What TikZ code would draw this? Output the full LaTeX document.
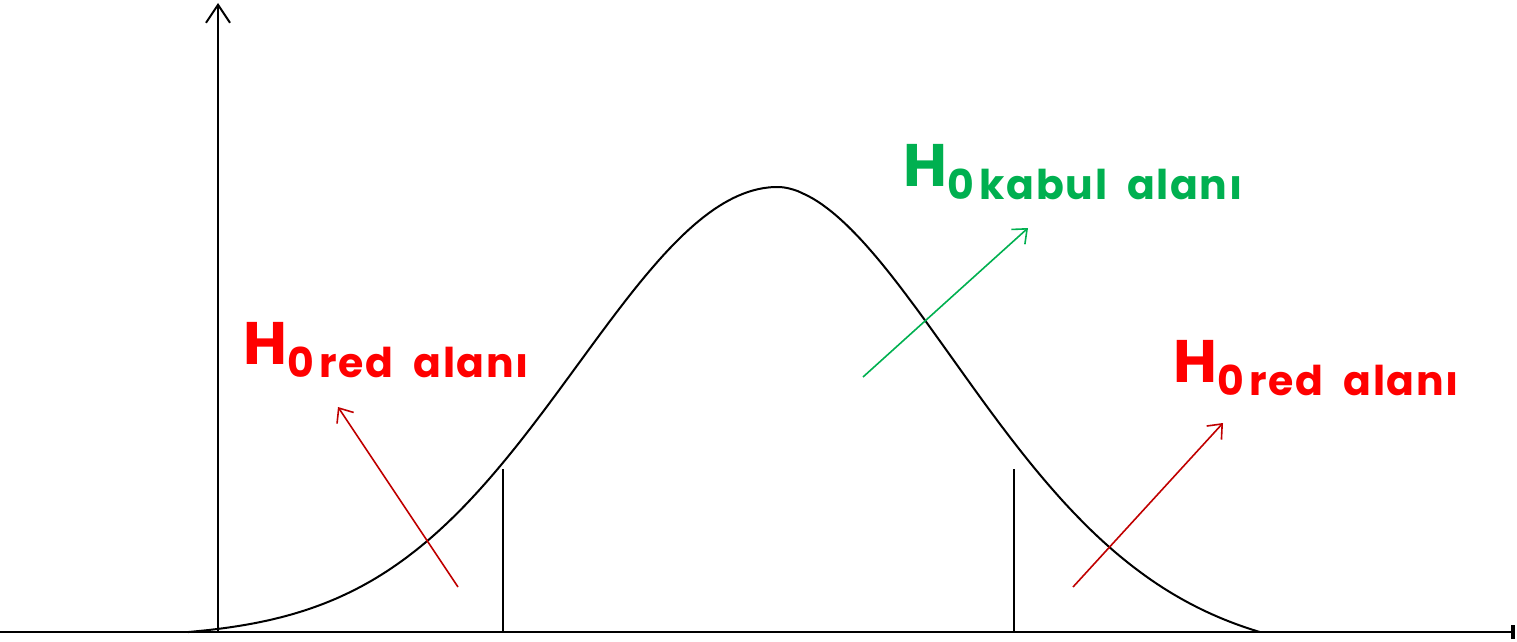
\documentclass[tikz,border=0pt]{standalone}
\usepackage{fontspec}
\setmainfont{Poppins}
\usetikzlibrary{arrows.meta}
\definecolor{lblred}{HTML}{FF0000}
\definecolor{arrred}{HTML}{C00000}
\definecolor{lblgreen}{HTML}{00B050}
\newcommand{\bigH}{{\fontsize{60}{60}\selectfont H}}
\newcommand{\smalltxt}[1]{\raisebox{-13pt}{\fontsize{41}{41}\selectfont\addfontfeature{LetterSpace=4}#1}}
\begin{document}
\begin{tikzpicture}[x=1pt,y=-1pt,
  axisline/.style={line width=2pt,black},
  curveline/.style={line width=2pt,black},
  cutline/.style={line width=2pt,black},
  redarrow/.style={line width=1.6pt,arrred,-{Straight Barb[length=12pt,width=20pt,line width=1.6pt]}},
  greenarrow/.style={line width=1.6pt,lblgreen,-{Straight Barb[length=12pt,width=20pt,line width=1.6pt]}},
  lbl/.style={anchor=base west,inner sep=0pt,font=\bfseries}]
\useasboundingbox (0,0) rectangle (1517,642);
% axes
\coordinate (yb) at (218,632);
\coordinate (yt) at (218,3);
\coordinate (xl) at (0,632);
\coordinate (xr) at (1515,632);
\draw[axisline,-{Straight Barb[length=18pt,width=24pt,line width=2pt]}] (yb) -- (yt);
\draw[axisline,-{Bar[width=14pt,line width=4pt]}] (xl) -- (xr);
% curve (asymmetric bell)
\draw[curveline,line join=round] plot[domain=188:778,samples=120]
  ({\x},{632-445*(exp(-0.5*((\x-778)/200)^2)-0.0129)/0.9871})
  -- plot[domain=778.5:1260,samples=100]
  ({\x},{632-445*(exp(-0.5*(((\x-778)/185)^1.8))-0.0608)/0.9392});
% cut lines
\coordinate (c1b) at (503,632); \coordinate (c1t) at (503,469);
\coordinate (c2b) at (1014,632); \coordinate (c2t) at (1014,469);
\draw[cutline] (c1b) -- (c1t);
\draw[cutline] (c2b) -- (c2t);
% arrows
\coordinate (a1s) at (458,587); \coordinate (a1e) at (338,407);
\coordinate (a2s) at (863,377); \coordinate (a2e) at (1028,228);
\coordinate (a3s) at (1073,587); \coordinate (a3e) at (1223,423);
\draw[redarrow] (a1s) -- (a1e);
\draw[greenarrow] (a2s) -- (a2e);
\draw[redarrow] (a3s) -- (a3e);
% labels
\node[lbl,text=lblred] (l1) at (243,364) {\bigH\smalltxt{0\hspace{6pt}red\hspace{20pt}alanı}};
\node[lbl,text=lblgreen] (l2) at (903,186) {\bigH\smalltxt{0\hspace{6pt}kabul\hspace{20pt}alanı}};
\node[lbl,text=lblred] (l3) at (1173,382) {\bigH\smalltxt{0\hspace{6pt}red\hspace{20pt}alanı}};
\end{tikzpicture}
\end{document}
